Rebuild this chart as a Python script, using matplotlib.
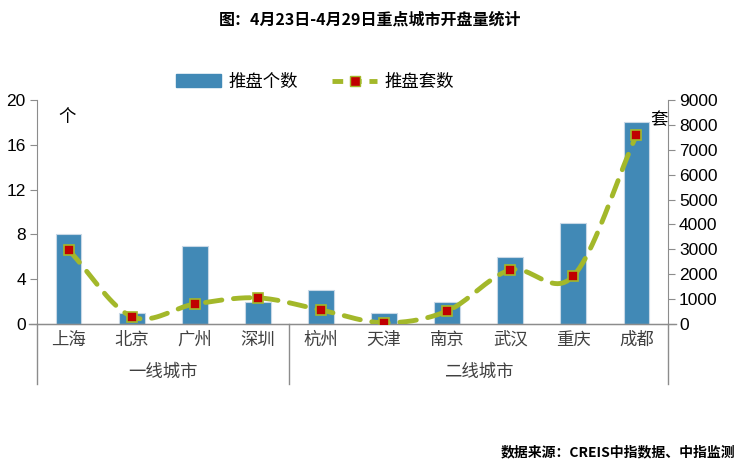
import numpy as np
import matplotlib
matplotlib.use('Agg')
import matplotlib.pyplot as plt
from matplotlib.lines import Line2D
from matplotlib.patches import Patch

plt.rcParams['font.family'] = ['Noto Sans CJK SC', 'DejaVu Sans']

cities = ['上海', '北京', '广州', '深圳', '杭州', '天津', '南京', '武汉', '重庆', '成都']
groups = ['一线城市', '二线城市']
group_sizes = [4, 6]
projects = [8, 1, 7, 2, 3, 1, 2, 6, 9, 18]          # 推盘个数
units = [2980, 300, 800, 1050, 560, 50, 520, 2170, 1930, 7590]  # 推盘套数

bar_color = '#4189b6'
line_color = '#a3b82a'
axis_color = '#8c8c8c'


def smooth(xs, ys, n=20):
    # Catmull-Rom curve through the points, like Excel's smoothed line
    xs = np.asarray(xs, float)
    ys = np.asarray(ys, float)
    px = np.concatenate([[2 * xs[0] - xs[1]], xs, [2 * xs[-1] - xs[-2]]])
    py = np.concatenate([[2 * ys[0] - ys[1]], ys, [2 * ys[-1] - ys[-2]]])
    out_x, out_y = [], []
    t = np.linspace(0, 1, n, endpoint=False)
    for i in range(1, len(px) - 2):
        for p, o in ((px, out_x), (py, out_y)):
            p0, p1, p2, p3 = p[i - 1], p[i], p[i + 1], p[i + 2]
            o.extend(0.5 * (2 * p1 + (-p0 + p2) * t + (2 * p0 - 5 * p1 + 4 * p2 - p3) * t ** 2
                            + (-p0 + 3 * p1 - 3 * p2 + p3) * t ** 3))
    out_x.append(xs[-1])
    out_y.append(ys[-1])
    return np.array(out_x), np.array(out_y)


fig = plt.figure(figsize=(7.41, 4.69), dpi=100)
ax = fig.add_axes([0.0499, 0.3092, 0.8516, 0.4776])
ax2 = ax.twinx()

x = np.arange(len(cities))
ax.bar(x, projects, width=0.41, color=bar_color, edgecolor='#c8d8e6', linewidth=0.8, zorder=2)
ax.set_xlim(-0.5, len(cities) - 0.5)
ax.set_ylim(0, 20)
ax.set_yticks(range(0, 21, 4))

sx, sy = smooth(x, units)
ax2.plot(sx, sy, color=line_color, lw=3.5, dashes=(3.4, 2.4), solid_capstyle='round',
         dash_capstyle='round', zorder=3)
ax2.plot(x, units, ls='none', marker='s', ms=7.5, mfc='#c00000', mec=line_color, mew=1.2, zorder=4)
ax2.set_ylim(0, 9000)
ax2.set_yticks(range(0, 9001, 1000))

for a in (ax, ax2):
    for s in a.spines.values():
        s.set_color(axis_color)
    a.spines['top'].set_visible(False)
    a.tick_params(axis='y', colors=axis_color, labelcolor='black', labelsize=12.5, length=5, pad=3)
    for lab in a.get_yticklabels():
        lab.set_family(['Liberation Sans', 'DejaVu Sans'])
ax.spines['right'].set_visible(False)
ax2.spines['left'].set_visible(False)
ax2.spines['bottom'].set_visible(False)

ax.set_xticks(x)
ax.set_xticklabels(cities, fontsize=12.5, color='#404040')
ax.tick_params(axis='x', length=0, pad=5)

# second level of category axis
start = 0
bounds = [-0.5]
for g, n in zip(groups, group_sizes):
    mid = start + (n - 1) / 2
    ax.text(mid, -0.215, g, transform=ax.get_xaxis_transform(), ha='center', va='center',
            fontsize=12.5, color='#404040')
    start += n
    bounds.append(start - 0.5)
for b in bounds:
    ax.plot([b, b], [0, -0.27], transform=ax.get_xaxis_transform(), color=axis_color,
            lw=1, clip_on=False)
ax.plot([-0.62, len(cities) - 0.38], [0, 0], transform=ax.get_xaxis_transform(),
        color=axis_color, lw=1, clip_on=False)

ax.text(0.048, 0.965, '个', transform=ax.transAxes, ha='center', va='top', fontsize=12.5)
ax2.text(0.985, 0.95, '套', transform=ax2.transAxes, ha='center', va='top', fontsize=12.5)

handles = [Patch(color=bar_color, label='推盘个数'),
           Line2D([], [], color=line_color, lw=3.5, dashes=(2.2, 1.6), marker='s', ms=7.5,
                  mfc='#c00000', mec=line_color, label='推盘套数')]
fig.legend(handles=handles, loc='center', bbox_to_anchor=(0.425, 0.826), ncol=2, frameon=False,
           fontsize=12.5, handlelength=2.6, columnspacing=2.0, handletextpad=0.4)

fig.text(0.5, 0.958, '图：4月23日-4月29日重点城市开盘量统计', ha='center', va='center',
         fontsize=11.5, fontweight='bold')
fig.text(0.992, 0.035, '数据来源：CREIS中指数据、中指监测', ha='right', va='center',
         fontsize=10, fontweight='bold')

fig.savefig('out.png', dpi=100)
